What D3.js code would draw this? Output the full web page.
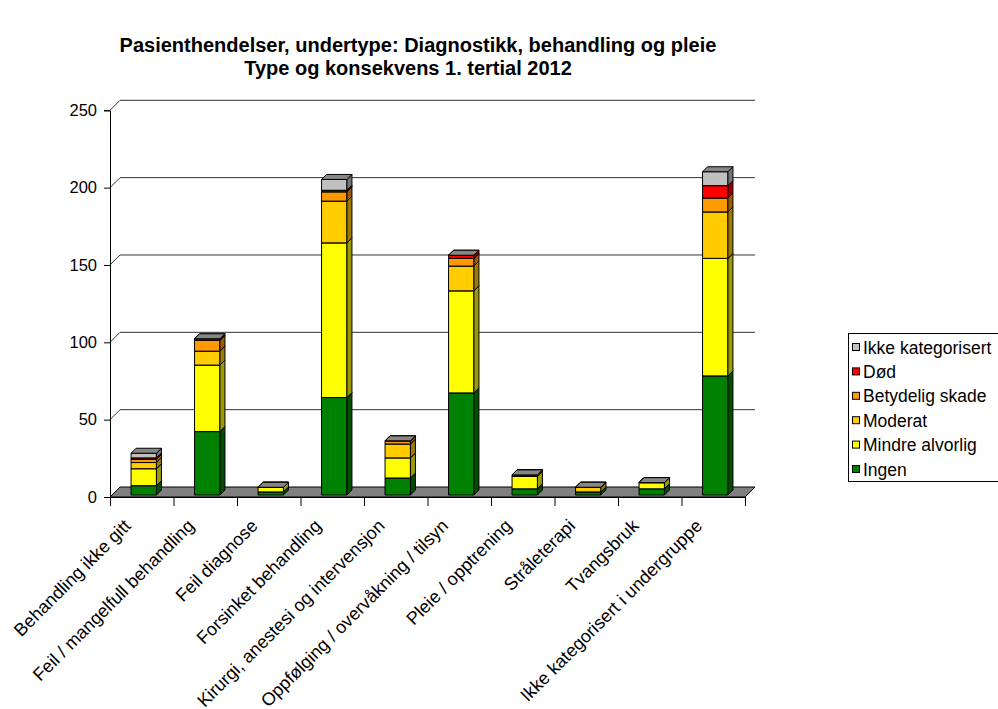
<!DOCTYPE html>
<html>
<head>
<meta charset="utf-8">
<script src="https://cdn.jsdelivr.net/npm/d3@7"></script>
<style>
  html, body { margin: 0; padding: 0; background: #fff; }
  svg { display: block; font-family: Arial, "Liberation Sans", sans-serif; }
</style>
</head>
<body>
<svg id="chart" width="998" height="709"></svg>
<script>
// Categories (x axis)
const categories = [
  "Behandling ikke gitt",
  "Feil / mangelfull behandling",
  "Feil diagnose",
  "Forsinket behandling",
  "Kirurgi, anestesi og intervensjon",
  "Oppfølging / overvåkning / tilsyn",
  "Pleie / opptrening",
  "Stråleterapi",
  "Tvangsbruk",
  "Ikke kategorisert i undergruppe"
];

// Series, stacked bottom to top
const seriesNames = ["Ingen", "Mindre alvorlig", "Moderat", "Betydelig skade", "Død", "Ikke kategorisert"];
const seriesColors = ["#008000", "#FFFF00", "#FFCC00", "#FF9900", "#FF0000", "#C0C0C0"];

const ingen            = [6, 41, 2, 63, 11, 66, 4, 2, 4, 77];
const mindreAlvorlig   = [11, 43, 3, 100, 13, 66, 8, 0, 4, 76];
const moderat          = [4, 9, 0, 27, 9, 16, 1, 3, 0, 30];
const betydeligSkade   = [2, 7, 0, 6, 2, 5, 0, 0, 0, 9];
const dod              = [1, 1, 0, 1, 0, 2, 0, 0, 0, 8];
const ikkeKategorisert = [3, 0, 0, 7, 0, 0, 0, 0, 0, 9];

const yTicks = [0, 50, 100, 150, 200, 250];

const titleLines = [
  "Pasienthendelser, undertype: Diagnostikk, behandling og pleie",
  "Type og konsekvens 1. tertial 2012"
];

const seriesValues = [ingen, mindreAlvorlig, moderat, betydeligSkade, dod, ikkeKategorisert];

const svg = d3.select("#chart");

// Plot geometry
const plotLeft = 110, plotRight = 745, plotBottom = 497, plotTop = 110.3;
const depth = 10;          // depth of floor / back wall offset
const barFront = 2;        // bar front face offset into depth
const barDepth = 5;        // bar thickness in depth

const y = d3.scaleLinear().domain([0, 250]).range([plotBottom, plotTop]);
const x = d3.scaleBand().domain(categories).range([plotLeft, plotRight]).padding(0);
const xIdx = d3.scaleLinear().domain([0, categories.length]).range([plotLeft, plotRight]);
const barW = x.bandwidth() * 0.4;

// Title
const titleX = [418, 408];
svg.append("g").selectAll("text").data(titleLines).join("text")
  .attr("x", (d, i) => titleX[i]).attr("y", (d, i) => 52 + i * 23)
  .attr("text-anchor", "middle")
  .attr("font-weight", "bold").attr("font-size", "20px")
  .text(d => d);

// Back wall gridlines with diagonal connectors
const grid = svg.append("g").attr("stroke", "#333").attr("stroke-width", 1).attr("fill", "none");
yTicks.filter(t => t > 0).forEach(t => {
  const yy = y(t);
  grid.append("path").attr("d", `M${plotLeft},${yy} L${plotLeft + depth},${yy - depth} L${plotRight + depth},${yy - depth}`);
});

// Floor
svg.append("path")
  .attr("d", `M${plotLeft},${plotBottom} L${plotLeft + depth},${plotBottom - depth} L${plotRight + depth},${plotBottom - depth} L${plotRight},${plotBottom} Z`)
  .attr("fill", "#808080").attr("stroke", "#000").attr("stroke-width", 1);

// Y axis
const yAxis = svg.append("g").attr("transform", `translate(${plotLeft},0)`)
  .call(d3.axisLeft(y).tickValues(yTicks).tickSize(6).tickPadding(7).tickFormat(d3.format("d")));
yAxis.select(".domain").attr("stroke", "#000");
yAxis.selectAll("text").attr("font-size", "16.5px").attr("font-family", "Arial, 'Liberation Sans', sans-serif").attr("fill", "#000");

// X axis (tick marks between categories)
const xAxis = svg.append("g").attr("transform", `translate(0,${plotBottom})`)
  .call(d3.axisBottom(xIdx).tickValues(d3.range(categories.length + 1)).tickSize(9).tickFormat(""));
xAxis.select(".domain").attr("stroke", "#000");

// Category labels
svg.append("g").selectAll("text").data(categories).join("text")
  .attr("transform", d => `translate(${x(d) + x.bandwidth() / 2 - 10},${527}) rotate(-45)`)
  .attr("text-anchor", "end")
  .attr("font-size", "18px")
  .text(d => d);

// Stacked 3D columns
const stackData = categories.map((c, i) => {
  let acc = 0;
  return seriesValues.map((vals, s) => {
    const v0 = acc; acc += vals[i];
    return { cat: c, s, v0, v1: acc };
  });
});

const bars = svg.append("g").attr("stroke", "#000").attr("stroke-width", 1).attr("stroke-linejoin", "round");
stackData.forEach(segs => {
  segs.forEach(seg => {
    const col = d3.color(seriesColors[seg.s]);
    const x0 = x(seg.cat) + (x.bandwidth() - barW) / 2 + barFront;
    const x1 = x0 + barW;
    const yb = y(seg.v0) - barFront;
    const yt = y(seg.v1) - barFront;
    const g = bars.append("g");
    if (seg.v1 > seg.v0) {
      g.append("rect").attr("x", x0).attr("y", yt).attr("width", barW).attr("height", yb - yt)
        .attr("fill", col.formatHex());
      g.append("path")
        .attr("d", `M${x1},${yt} L${x1 + barDepth},${yt - barDepth} L${x1 + barDepth},${yb - barDepth} L${x1},${yb} Z`)
        .attr("fill", col.darker(1.4).formatHex());
    }
    g.append("path")
      .attr("d", `M${x0},${yt} L${x0 + barDepth},${yt - barDepth} L${x1 + barDepth},${yt - barDepth} L${x1},${yt} Z`)
      .attr("fill", col.darker(1).formatHex());
  });
});

// Legend
const legend = svg.append("g");
legend.append("rect").attr("x", 848.5).attr("y", 333.5).attr("width", 160).attr("height", 148)
  .attr("fill", "#fff").attr("stroke", "#000");
const legendItems = seriesNames.map((n, i) => ({ name: n, color: seriesColors[i] })).reverse();
legendItems.forEach((d, i) => {
  const cy = 347.5 + i * 24.4;
  legend.append("rect").attr("x", 852.5).attr("y", cy - 4).attr("width", 7).attr("height", 7)
    .attr("fill", d.color).attr("stroke", "#000");
  legend.append("text").attr("x", 863).attr("y", cy + 6).attr("font-size", "17.5px").text(d.name);
});
</script>
</body>
</html>
